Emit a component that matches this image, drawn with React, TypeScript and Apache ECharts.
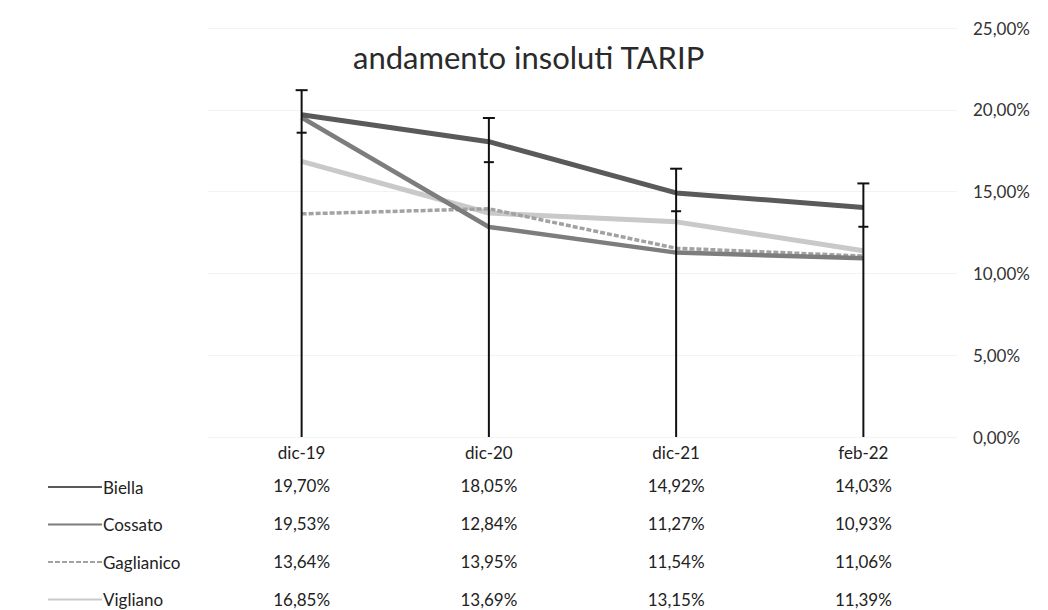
import React, { useEffect, useRef } from "react";
import * as echarts from "echarts";

const categories = ["dic-19", "dic-20", "dic-21", "feb-22"];
const seriesNames = ["Biella", "Cossato", "Gaglianico", "Vigliano"];
const biella = [19.7, 18.05, 14.92, 14.03];
const cossato = [19.53, 12.84, 11.27, 10.93];
const gaglianico = [13.64, 13.95, 11.54, 11.06];
const vigliano = [16.85, 13.69, 13.15, 11.39];
const errorTop = [21.2, 19.5, 16.4, 15.5];
const errorLow = [18.6, 16.8, 13.8, 12.85];
const yTicks = [0, 5, 10, 15, 20, 25];

const allValues = [biella, cossato, gaglianico, vigliano];
const fmt = (v: number) => v.toFixed(2).replace(".", ",") + "%";
const FONT = "Lato, 'Noto Sans', sans-serif";

export default function App() {
  const ref = useRef<HTMLDivElement>(null);
  useEffect(() => {
    if (!ref.current) return;
    const chart = echarts.init(ref.current, undefined, { renderer: "svg" });
    const colors = ["#5a5a5a", "#7d7d7d", "#a2a2a2", "#c9c9c9"];
    const widths = [5, 4.5, 3.5, 5];
    const lineSeries = seriesNames.map((name, i) => ({
      name,
      type: "line",
      data: allValues[i],
      symbol: "none",
      lineStyle: {
        color: colors[i],
        width: widths[i],
        type: i === 2 ? [5, 2] : "solid",
      },
      itemStyle: { color: colors[i] },
      z: 10 - i,
    }));
    chart.setOption({
      animation: false,
      textStyle: { fontFamily: FONT },
      title: {
        text: "andamento insoluti TARIP",
        left: 348,
        top: 36,
        textStyle: { fontFamily: FONT, fontSize: 31, fontWeight: "normal", color: "#2a2a2a" },
      },
      legend: {
        orient: "vertical",
        left: 42,
        top: 472,
        height: 160,
        itemWidth: 54,
        itemHeight: 14,
        itemGap: 17.5,
        data: seriesNames,
        itemStyle: { opacity: 0 },
        textStyle: { fontFamily: FONT, fontSize: 17, color: "#222", lineHeight: 20, padding: [0, 0, 0, -4] },
      },
      grid: { left: 208, right: 91, top: 28, bottom: 173 },
      xAxis: {
        type: "category",
        data: categories,
        boundaryGap: true,
        axisLine: { show: false },
        axisTick: { show: false },
        axisLabel: {
          margin: 0,
          interval: 0,
          formatter: (val: string, idx: number) =>
            "{h|" + val + "}\n" + allValues.map((s) => "{v|" + fmt(s[idx]) + "}").join("\n"),
          rich: {
            h: { fontFamily: FONT, fontSize: 17, color: "#222", lineHeight: 30 },
            v: { fontFamily: FONT, fontSize: 17, color: "#222", lineHeight: 37.8 },
          },
        },
      },
      yAxis: {
        type: "value",
        position: "right",
        min: 0,
        max: 25,
        interval: 5,
        axisLine: { show: false },
        axisTick: { show: false },
        splitLine: { lineStyle: { color: "#f3f3f3" } },
        axisLabel: {
          margin: 16,
          fontFamily: FONT,
          fontSize: 17,
          color: "#333",
          formatter: (v: number) => fmt(v),
        },
      },
      series: [
        ...lineSeries,
        {
          name: "errors",
          type: "custom",
          z: 20,
          data: categories.map((_, i) => [i, errorTop[i], errorLow[i]]),
          renderItem: (params: any, api: any) => {
            const idx = api.value(0);
            const top = api.coord([idx, api.value(1)]);
            const low = api.coord([idx, api.value(2)]);
            const base = api.coord([idx, 0]);
            const style = { stroke: "#111", lineWidth: 2 };
            return {
              type: "group",
              children: [
                { type: "line", shape: { x1: base[0], y1: base[1], x2: top[0], y2: top[1] }, style },
                { type: "line", shape: { x1: top[0] - 6, y1: top[1], x2: top[0] + 6, y2: top[1] }, style },
                { type: "line", shape: { x1: low[0] - 5, y1: low[1], x2: low[0] + 5, y2: low[1] }, style },
              ],
            };
          },
        },
      ],
    } as any);
    return () => chart.dispose();
  }, []);
  return (
    <div
      ref={ref}
      style={{ position: "fixed", left: 0, top: 0, width: 1048, height: 610, background: "#fff" }}
    />
  );
}
